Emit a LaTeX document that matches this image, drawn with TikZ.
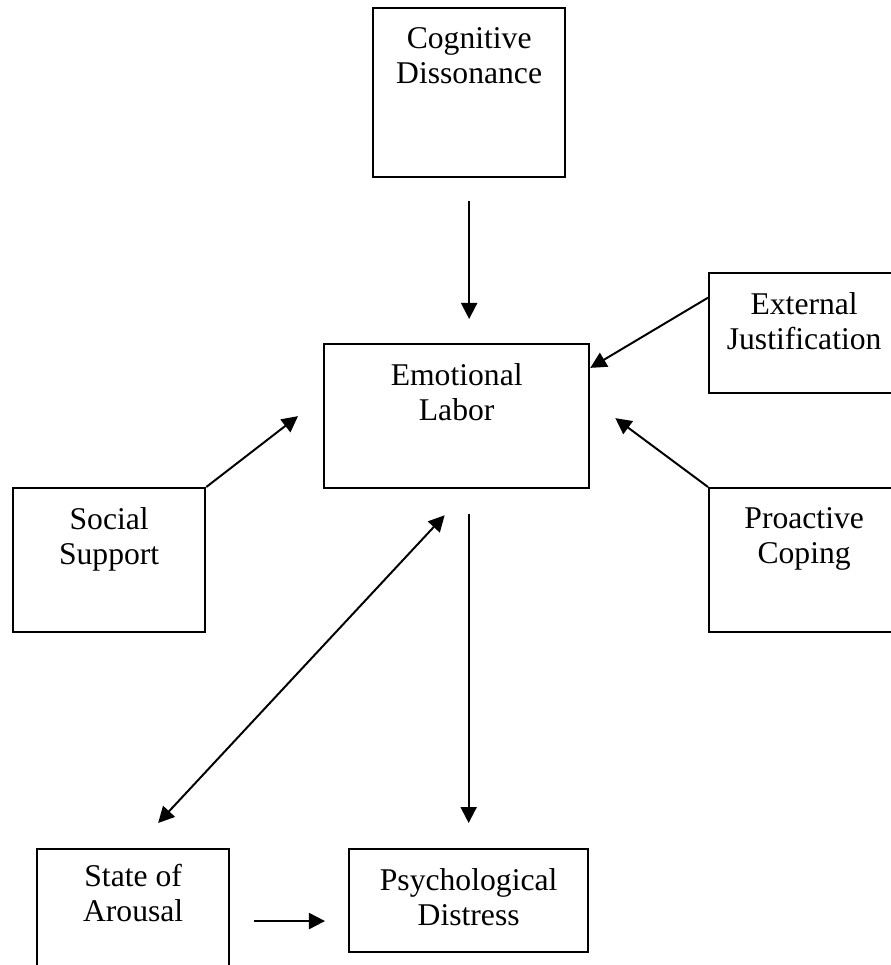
\documentclass[tikz,border=0pt]{standalone}
\usepackage{fontspec}
\setmainfont{Liberation Serif}
\usetikzlibrary{arrows.meta,positioning,calc}
\tikzset{
  box/.style={draw, line width=1.6pt, anchor=north west, inner sep=0pt},
  lbl/.style={align=center, inner sep=0pt, font=\fontsize{22.5}{25}\selectfont},
  tri/.tip={Triangle[length=0.4cm,width=0.4cm]},
  arr/.style={line width=1.4pt, -tri},
}
\begin{document}
\begin{tikzpicture}[x=0.025cm,y=-0.025cm]
  \useasboundingbox (0,0) rectangle (891,965);
  % boxes
  \node[box, minimum width=4.8cm, minimum height=4.225cm] (cog) at (372,7) {};
  \node[box, minimum width=4.75cm, minimum height=3cm] (ext) at (708,272) {};
  \node[box, minimum width=6.625cm, minimum height=3.6cm] (emo) at (323,343) {};
  \node[box, minimum width=4.8cm, minimum height=3.6cm] (soc) at (12,487) {};
  \node[box, minimum width=4.75cm, minimum height=3.6cm] (pro) at (708,487) {};
  \node[box, minimum width=4.8cm, minimum height=3.5cm] (sta) at (36,848) {};
  \node[box, minimum width=5.975cm, minimum height=2.575cm] (psy) at (348,848) {};
  % labels
  \node[lbl, below=0.5cm of cog.north] (cogt) {Cognitive\\Dissonance};
  \node[lbl, below=0.5cm of ext.north] (extt) {External\\Justification};
  \node[lbl, below=0.5cm of emo.north] (emot) {Emotional\\Labor};
  \node[lbl, below=0.5cm of soc.north] (soct) {Social\\Support};
  \node[lbl, below=0.5cm of pro.north] (prot) {Proactive\\Coping};
  \node[lbl, below=0.4cm of sta.north] (stat) {State of\\Arousal};
  \node[lbl, below=0.5cm of psy.north] (psyt) {Psychological\\Distress};
  % arrows
  \draw[arr, shorten <=0.575cm, shorten >=0.6cm] (cog.south) -- (cog.south |- emo.north);
  \draw[arr] ($(ext.north west)!0.21!(ext.south west)$) -- ($(emo.north east)!0.17!(emo.south east)$);
  \draw[arr] (soc.north east) -- ([xshift=-0.625cm]emo.west);
  \draw[arr] (pro.north west) -- ([xshift=0.625cm,yshift=-0.05cm]emo.east);
  \draw[arr, tri-tri] ([xshift=-0.3cm,yshift=-0.65cm]emo.south) -- ([xshift=0.625cm,yshift=0.625cm]sta.north);
  \draw[arr, shorten <=0.625cm, shorten >=0.625cm] (psy.north |- emo.south) -- (psy.north);
  \coordinate (sp) at ([yshift=-0.51cm]psy.west);
  \draw[arr, shorten <=0.6cm, shorten >=0.575cm] (sta.east |- sp) -- (sp);
\end{tikzpicture}
\end{document}
